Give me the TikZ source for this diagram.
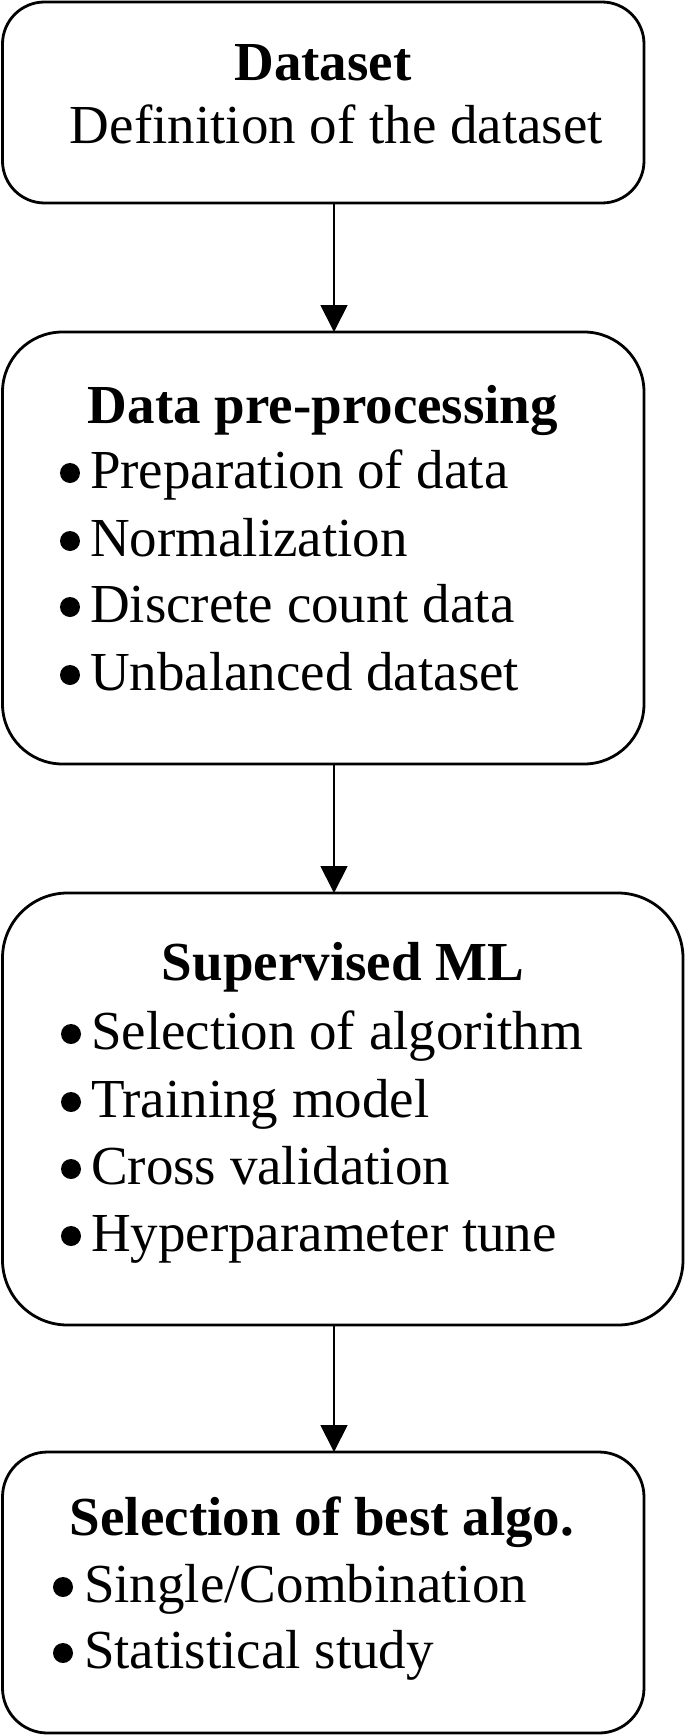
\documentclass[tikz,border=0pt]{standalone}
\usepackage{fontspec}
\setmainfont{Liberation Serif}
\usetikzlibrary{arrows.meta}
\tikzset{
  box/.style={draw, line width=2.8pt, inner sep=0pt, outer sep=0pt},
  lbl/.style={inner sep=0pt, outer sep=0pt, anchor=base, font=\fontsize{55}{66}\selectfont},
  ttl/.style={lbl, font=\fontsize{55}{66}\selectfont\bfseries},
  itm/.style={lbl, anchor=base west},
  dot/.style={circle, fill=black, draw=none, inner sep=0pt, outer sep=0pt, minimum size=20pt},
  arr/.style={line width=1.8pt, -{Triangle[length=27pt,width=27pt]}},
}
\begin{document}
\begin{tikzpicture}[x=1pt,y=-1pt]
\useasboundingbox (0,0) rectangle (685,1736);
% boxes
\node[box, minimum width=641.5pt, minimum height=201pt, rounded corners=42pt] (b1) at (323.25,102.5) {};
\node[box, minimum width=641.5pt, minimum height=432pt, rounded corners=60pt] (b2) at (323.25,548) {};
\node[box, minimum width=680.5pt, minimum height=432pt, rounded corners=65pt] (b3) at (342.75,1109) {};
\node[box, minimum width=641.5pt, minimum height=281pt, rounded corners=45pt] (b4) at (323.25,1592.5) {};
% arrows
\coordinate (ax) at (334,0);
\draw[arr] (ax |- b1.south) -- (ax |- b2.north);
\draw[arr] (ax |- b2.south) -- (ax |- b3.north);
\draw[arr] (ax |- b3.south) -- (ax |- b4.north);
% box 1
\node[ttl] (t1) at (323,81) {Dataset};
\node[lbl] (d1) at (336.5,144) {Definition of the dataset};
% box 2
\node[ttl] (t2) at (323,423) {Data pre-processing};
\node[itm] (i21) at (90,488) {Preparation of data};
\node[itm] (i22) at (90,556) {Normalization};
\node[itm] (i23) at (90,622) {Discrete count data};
\node[itm] (i24) at (90,690) {Unbalanced dataset};
\node[dot] (p21) at (70,473) {};
\node[dot] (p22) at (70,541) {};
\node[dot] (p23) at (70,607) {};
\node[dot] (p24) at (70,675) {};
% box 3
\node[ttl] (t3) at (343,980) {Supervised ML};
\node[itm] (i31) at (91,1049) {Selection of algorithm};
\node[itm] (i32) at (91,1117) {Training model};
\node[itm] (i33) at (91,1184) {Cross validation};
\node[itm] (i34) at (91,1251) {Hyperparameter tune};
\node[dot] (p31) at (71,1034) {};
\node[dot] (p32) at (71,1102) {};
\node[dot] (p33) at (71,1169) {};
\node[dot] (p34) at (71,1236) {};
% box 4
\node[ttl] (t4) at (322,1535) {Selection of best algo.};
\node[itm] (i41) at (84,1602) {Single/Combination};
\node[itm] (i42) at (84,1668) {Statistical study};
\node[dot] (p41) at (63,1587) {};
\node[dot] (p42) at (63,1653) {};
\end{tikzpicture}
\end{document}
